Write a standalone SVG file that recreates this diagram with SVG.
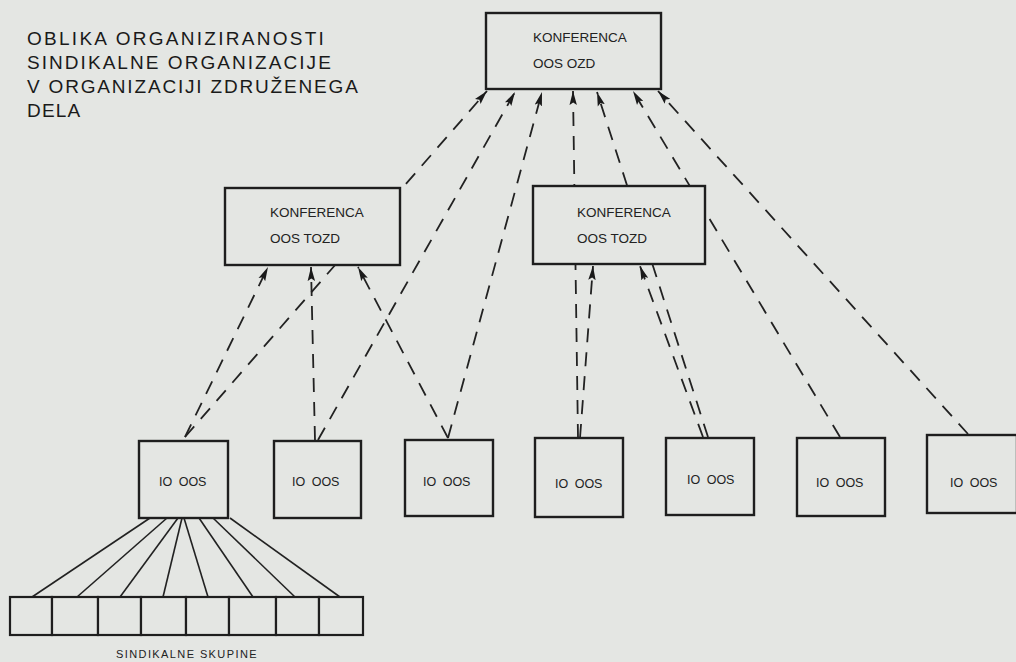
<svg xmlns="http://www.w3.org/2000/svg" width="1016" height="662" viewBox="0 0 1016 662">
<style>
.bg{fill:#e4e6e3}
.box{fill:#e4e6e3;stroke:#1e1e1e;stroke-width:2.4}
.cell{fill:#e4e6e3;stroke:#1e1e1e;stroke-width:2.2}
.t{font-family:"Liberation Sans",Arial,sans-serif;fill:#222}
.title{font-size:19px;letter-spacing:1.2px;fill:#1a1a1a}
.lbl{font-size:13.5px}
.io{font-size:12.5px;word-spacing:3px}
.sub{font-size:11px;letter-spacing:1.4px}
.dash{fill:none;stroke:#222;stroke-width:1.8;stroke-dasharray:14 10;marker-end:url(#ah)}
.solid{fill:none;stroke:#222;stroke-width:1.6}
</style>
<defs>
<marker id="ah" viewBox="0 0 14 8" refX="14" refY="4" markerWidth="14" markerHeight="8" markerUnits="userSpaceOnUse" orient="auto">
<path d="M0,0.3 L14,4 L0,7.7 L2.5,4 z" fill="#1a1a1a"/>
</marker>
</defs>
<rect class="bg" x="0" y="0" width="1016" height="662"/>

<g id="title">
<text class="t title" x="27" y="45" textLength="298" lengthAdjust="spacing">OBLIKA  ORGANIZIRANOSTI</text>
<text class="t title" x="27" y="69" textLength="305" lengthAdjust="spacing">SINDIKALNE  ORGANIZACIJE</text>
<text class="t title" x="27" y="93" textLength="332" lengthAdjust="spacing">V  ORGANIZACIJI  ZDRUŽENEGA</text>
<text class="t title" x="27" y="117">DELA</text>
</g>

<g id="connectors">
<line class="dash" x1="185" y1="437" x2="487" y2="91"/>
<line class="dash" x1="185" y1="437" x2="268" y2="267"/>
<line class="dash" x1="315" y1="440" x2="311" y2="267"/>
<line class="dash" x1="318" y1="440" x2="515" y2="92"/>
<line class="dash" x1="448" y1="438" x2="358" y2="267"/>
<line class="dash" x1="448" y1="438" x2="542" y2="92"/>
<line class="dash" x1="578" y1="438" x2="573" y2="91"/>
<line class="dash" x1="580" y1="438" x2="593" y2="266"/>
<line class="dash" x1="703" y1="437" x2="640" y2="266"/>
<line class="dash" x1="708" y1="437" x2="597" y2="92"/>
<line class="dash" x1="840" y1="437" x2="633" y2="91"/>
<line class="dash" x1="968" y1="434" x2="658" y2="91"/>
<g id="fan">
<line class="solid" x1="150" y1="518" x2="32" y2="597"/>
<line class="solid" x1="167" y1="518" x2="77" y2="597"/>
<line class="solid" x1="178" y1="518" x2="120" y2="597"/>
<line class="solid" x1="182" y1="518" x2="163" y2="597"/>
<line class="solid" x1="184" y1="518" x2="208" y2="597"/>
<line class="solid" x1="199" y1="518" x2="253" y2="597"/>
<line class="solid" x1="213" y1="518" x2="295" y2="597"/>
<line class="solid" x1="230" y1="518" x2="340" y2="597"/>
</g>
</g>

<g id="konferenca-ozd">
<rect class="box" x="486" y="13" width="175" height="76"/>
<text class="t lbl" x="533" y="42">KONFERENCA</text>
<text class="t lbl" x="533" y="68">OOS  OZD</text>
</g>
<g id="konferenca-tozd-1">
<rect class="box" x="225" y="188" width="175" height="77"/>
<text class="t lbl" x="270" y="217">KONFERENCA</text>
<text class="t lbl" x="270" y="243">OOS  TOZD</text>
</g>
<g id="konferenca-tozd-2">
<rect class="box" x="533" y="186" width="172" height="78"/>
<text class="t lbl" x="577" y="217">KONFERENCA</text>
<text class="t lbl" x="577" y="243">OOS  TOZD</text>
</g>

<g id="io1"><rect class="box" x="139" y="441" width="89" height="77"/><text class="t io" x="159" y="486">IO OOS</text></g>
<g id="io2"><rect class="box" x="274" y="441" width="87" height="77"/><text class="t io" x="292" y="486">IO OOS</text></g>
<g id="io3"><rect class="box" x="405" y="440" width="88" height="76"/><text class="t io" x="423" y="486">IO OOS</text></g>
<g id="io4"><rect class="box" x="535" y="438" width="88" height="79"/><text class="t io" x="555" y="488">IO OOS</text></g>
<g id="io5"><rect class="box" x="666" y="438" width="88" height="77"/><text class="t io" x="687" y="484">IO OOS</text></g>
<g id="io6"><rect class="box" x="797" y="438" width="88" height="78"/><text class="t io" x="816" y="487">IO OOS</text></g>
<g id="io7"><rect class="box" x="927" y="435" width="90" height="78"/><text class="t io" x="950" y="487">IO OOS</text></g>

<g id="sindikalne-skupine">
<rect class="cell" x="10" y="597" width="42" height="38"/>
<rect class="cell" x="52" y="597" width="46" height="38"/>
<rect class="cell" x="98" y="597" width="43" height="38"/>
<rect class="cell" x="141" y="597" width="45" height="38"/>
<rect class="cell" x="186" y="597" width="43" height="38"/>
<rect class="cell" x="229" y="597" width="47" height="38"/>
<rect class="cell" x="276" y="597" width="43" height="38"/>
<rect class="cell" x="319" y="597" width="44" height="38"/>
<text class="t sub" x="187" y="658" text-anchor="middle">SINDIKALNE  SKUPINE</text>
</g>
</svg>
